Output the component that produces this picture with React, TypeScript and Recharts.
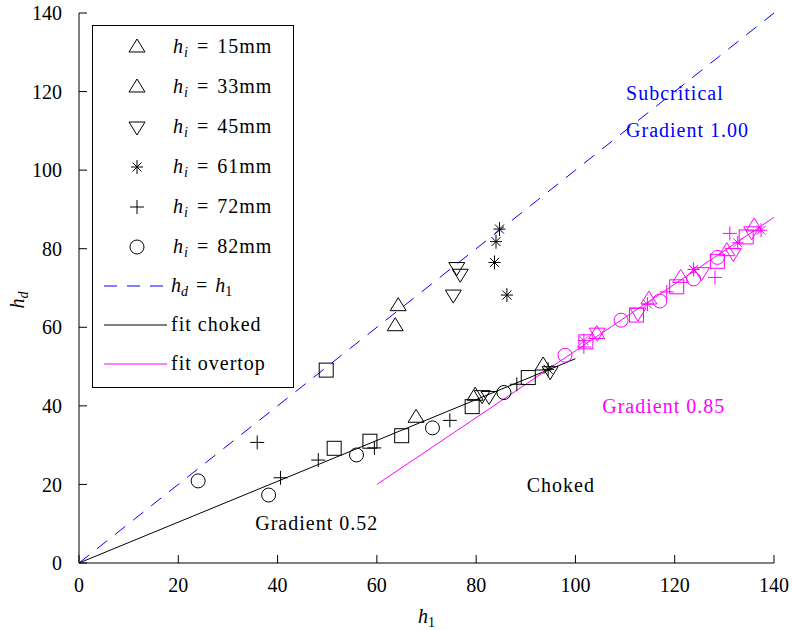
import React from 'react';
import { ScatterChart, Scatter, XAxis, YAxis, ReferenceLine, ReferenceDot } from 'recharts';

type Pt = [number, number];

const TICKS = [0, 20, 40, 60, 80, 100, 120, 140];

// h_i = 15mm (up triangle)
const tri15Choked: Pt[] = [[63.7, 60.4], [67.9, 37.1], [93.5, 50.4]];
const tri15Over: Pt[] = [[104.3, 58.4], [121.2, 72.7], [136.0, 85.8]];
// h_i = 33mm (up triangle)
const tri33Choked: Pt[] = [[64.3, 65.5], [79.8, 42.7]];
const tri33Over: Pt[] = [[114.8, 67.2], [130.5, 79.5]];
// h_i = 45mm (down triangle)
const down45Choked: Pt[] = [[76.1, 75.2], [76.8, 73.5], [75.4, 68.2], [81.2, 42.6], [82.6, 42.4], [94.9, 48.7]];
const down45Over: Pt[] = [[104.4, 58.5], [112.6, 63.6], [125.4, 73.9], [131.8, 78.8], [135.5, 84.3]];
// h_i = 61mm (asterisk)
const star61Choked: Pt[] = [[84.7, 85.0], [84.0, 81.8], [83.7, 76.5], [86.2, 68.2], [94.5, 49.3]];
const star61Over: Pt[] = [[101.7, 56.6], [114.5, 65.9], [123.8, 74.7], [132.7, 81.5], [137.4, 84.7]];
// h_i = 72mm (plus)
const plus72Choked: Pt[] = [[35.9, 30.7], [40.6, 21.7], [48.2, 26.2], [59.5, 29.3], [74.7, 36.3], [88.2, 45.5]];
const plus72Over: Pt[] = [[101.7, 55.0], [118.4, 69.0], [128.1, 72.7], [131.1, 83.9]];
// h_i = 82mm (circle)
const circ82Choked: Pt[] = [[24.0, 20.9], [38.2, 17.3], [55.9, 27.5], [71.2, 34.4], [85.6, 43.4]];
const circ82Over: Pt[] = [[97.9, 52.9], [109.2, 61.8], [117.0, 66.7], [123.8, 72.3], [128.6, 77.8]];
// squares (not in legend)
const squareChoked: Pt[] = [[49.8, 49.1], [51.4, 29.2], [58.6, 31.0], [65.0, 32.4], [79.2, 39.8], [90.5, 47.2]];
const squareOver: Pt[] = [[102.1, 56.3], [112.3, 63.1], [120.4, 70.3], [128.6, 76.8], [134.4, 83.0]];

const equalLine: Pt[] = [[0, 0], [140, 140]];
const chokedFit: Pt[] = [[0, 0], [100, 52]];
const overtopFit: Pt[] = [[60, 20], [140, 88]];

const BLUE = '#0000ff';
const MAGENTA = '#ff00ff';
const FONT = '"Liberation Serif", "Times New Roman", serif';

const toData = (pts: Pt[]) => pts.map(([h1, hd]) => ({ h1, hd }));
const seg = (pts: Pt[]) => pts.map(([x, y]) => ({ x, y }));

type Kind = 'up' | 'down' | 'star' | 'plus' | 'circle' | 'square';

function Marker({ kind, cx, cy, color }: { kind: Kind; cx: number; cy: number; color: string }) {
  const common = { fill: 'none', stroke: color, strokeWidth: 1 };
  switch (kind) {
    case 'up':
      return <polygon points={`${cx},${cy - 8} ${cx - 8},${cy + 5} ${cx + 8},${cy + 5}`} {...common} />;
    case 'down':
      return <polygon points={`${cx},${cy + 8} ${cx - 8},${cy - 5} ${cx + 8},${cy - 5}`} {...common} />;
    case 'circle':
      return <circle cx={cx} cy={cy} r={7} {...common} />;
    case 'square':
      return <rect x={cx - 7} y={cy - 7} width={14} height={14} {...common} />;
    case 'plus':
      return <path d={`M${cx - 7},${cy}H${cx + 7}M${cx},${cy - 7}V${cy + 7}`} {...common} />;
    case 'star':
      return (
        <path
          d={`M${cx - 6},${cy}H${cx + 6}M${cx},${cy - 7}V${cy + 7}M${cx - 4.5},${cy - 4.5}L${cx + 4.5},${cy + 4.5}M${cx - 4.5},${cy + 4.5}L${cx + 4.5},${cy - 4.5}`}
          {...common}
        />
      );
  }
  return null;
}

const shapeOf = (kind: Kind, color: string) => (p: any) =>
  <Marker kind={kind} cx={p.cx} cy={p.cy} color={color} />;

const series: { kind: Kind; choked: Pt[]; over: Pt[] }[] = [
  { kind: 'square', choked: squareChoked, over: squareOver },
  { kind: 'up', choked: tri15Choked, over: tri15Over },
  { kind: 'up', choked: tri33Choked, over: tri33Over },
  { kind: 'down', choked: down45Choked, over: down45Over },
  { kind: 'star', choked: star61Choked, over: star61Over },
  { kind: 'plus', choked: plus72Choked, over: plus72Over },
  { kind: 'circle', choked: circ82Choked, over: circ82Over },
];

const annotations = [
  { h1: 110.2, hd: 119.5, text: 'Subcritical', color: BLUE },
  { h1: 110.2, hd: 110.0, text: 'Gradient 1.00', color: BLUE },
  { h1: 105.4, hd: 39.7, text: 'Gradient 0.85', color: MAGENTA },
  { h1: 90.2, hd: 19.6, text: 'Choked', color: '#000' },
  { h1: 35.5, hd: 9.9, text: 'Gradient 0.52', color: '#000' },
];

const legendRows: { kind: Kind | 'dash' | 'line' | 'mline'; sub?: string; value: string }[] = [
  { kind: 'up', sub: 'i', value: '15mm' },
  { kind: 'up', sub: 'i', value: '33mm' },
  { kind: 'down', sub: 'i', value: '45mm' },
  { kind: 'star', sub: 'i', value: '61mm' },
  { kind: 'plus', sub: 'i', value: '72mm' },
  { kind: 'circle', sub: 'i', value: '82mm' },
  { kind: 'dash', value: 'h_d = h_1' },
  { kind: 'line', value: 'fit choked' },
  { kind: 'mline', value: 'fit overtop' },
];

function LegendBox() {
  const rowY = [22, 62, 102, 142, 182, 222, 261, 300, 339];
  return (
    <svg width={202} height={363} style={{ position: 'absolute', left: 92, top: 25 }}>
      <rect x={0.5} y={0.5} width={201} height={362} fill="#fff" stroke="#000" strokeWidth={1} />
      {legendRows.map((r, i) => {
        const y = rowY[i];
        let sym: React.ReactNode;
        if (r.kind === 'dash') sym = <line x1={12} x2={75} y1={y} y2={y} stroke={BLUE} strokeDasharray="13 10" />;
        else if (r.kind === 'line') sym = <line x1={12} x2={75} y1={y} y2={y} stroke="#000" />;
        else if (r.kind === 'mline') sym = <line x1={12} x2={75} y1={y} y2={y} stroke={MAGENTA} />;
        else sym = <Marker kind={r.kind} cx={45} cy={y} color="#000" />;
        let label: React.ReactNode;
        if (r.sub) {
          label = (
            <text x={81} y={y + 6} fontSize={20} fontFamily={FONT} letterSpacing={1}>
              <tspan fontStyle="italic">h</tspan>
              <tspan fontStyle="italic" fontSize={14} dy={4}>i</tspan>
              <tspan dy={-4} dx={8}>=</tspan>
              <tspan dx={8}>{r.value}</tspan>
            </text>
          );
        } else if (r.kind === 'dash') {
          label = (
            <text x={79} y={y + 6} fontSize={20} fontFamily={FONT}>
              <tspan fontStyle="italic">h</tspan>
              <tspan fontStyle="italic" fontSize={14} dy={4}>d</tspan>
              <tspan dy={-4} dx={8}>=</tspan>
              <tspan fontStyle="italic" dx={8}>h</tspan>
              <tspan fontSize={14} dy={4}>1</tspan>
            </text>
          );
        } else {
          label = (
            <text x={79} y={y + 6} fontSize={20} fontFamily={FONT} letterSpacing={1}>{r.value}</text>
          );
        }
        return (
          <g key={i}>
            {sym}
            {label}
          </g>
        );
      })}
    </svg>
  );
}

const tickStyle = { fontSize: 20, fill: '#000', fontFamily: FONT };

export default function App() {
  return (
    <div style={{ position: 'absolute', left: 0, top: 0, width: 792, height: 630, background: '#fff' }}>
      <ScatterChart width={792} height={630} margin={{ top: 13, right: 18, bottom: 0, left: 0 }}>
        <XAxis
          type="number"
          dataKey="h1"
          domain={[0, 140]}
          ticks={TICKS}
          allowDataOverflow
          height={67}
          stroke="#000"
          tickSize={-8}
          tickMargin={23}
          tick={tickStyle}
          label={{
            content: ({ viewBox }: any) => (
              <text x={viewBox.x + viewBox.width / 2} y={viewBox.y + 60} textAnchor="middle" fontSize={20} fontFamily={FONT}>
                <tspan fontStyle="italic">h</tspan>
                <tspan fontSize={14} dy={4}>1</tspan>
              </text>
            ),
          }}
        />
        <YAxis
          type="number"
          dataKey="hd"
          domain={[0, 140]}
          ticks={TICKS}
          allowDataOverflow
          width={79}
          stroke="#000"
          tickSize={-8}
          tickMargin={25}
          tick={tickStyle}
          label={{
            content: ({ viewBox }: any) => {
              const cx = viewBox.x + 24;
              const cy = viewBox.y + viewBox.height / 2 + 12;
              return (
                <text x={cx} y={cy} transform={`rotate(-90 ${cx} ${cy})`} textAnchor="middle" fontSize={20} fontFamily={FONT}>
                  <tspan fontStyle="italic">h</tspan>
                  <tspan fontStyle="italic" fontSize={14} dy={4}>d</tspan>
                </text>
              );
            },
          }}
        />
        <ReferenceLine segment={seg(equalLine)} stroke={BLUE} strokeDasharray="13 10" ifOverflow="visible" />
        <ReferenceLine segment={seg(chokedFit)} stroke="#000" ifOverflow="visible" />
        <ReferenceLine segment={seg(overtopFit)} stroke={MAGENTA} ifOverflow="visible" />
        {series.map((s, i) => (
          <Scatter key={`c${i}`} data={toData(s.choked)} shape={shapeOf(s.kind, '#000')} isAnimationActive={false} />
        ))}
        {series.map((s, i) => (
          <Scatter key={`o${i}`} data={toData(s.over)} shape={shapeOf(s.kind, MAGENTA)} isAnimationActive={false} />
        ))}
        {annotations.map((a, i) => (
          <ReferenceDot
            key={`a${i}`}
            x={a.h1}
            y={a.hd}
            ifOverflow="visible"
            shape={(p: any) => (
              <text x={p.cx} y={p.cy + 6} fill={a.color} fontSize={20} fontFamily={FONT} letterSpacing={1}>{a.text}</text>
            )}
          />
        ))}
      </ScatterChart>
      <LegendBox />
    </div>
  );
}
